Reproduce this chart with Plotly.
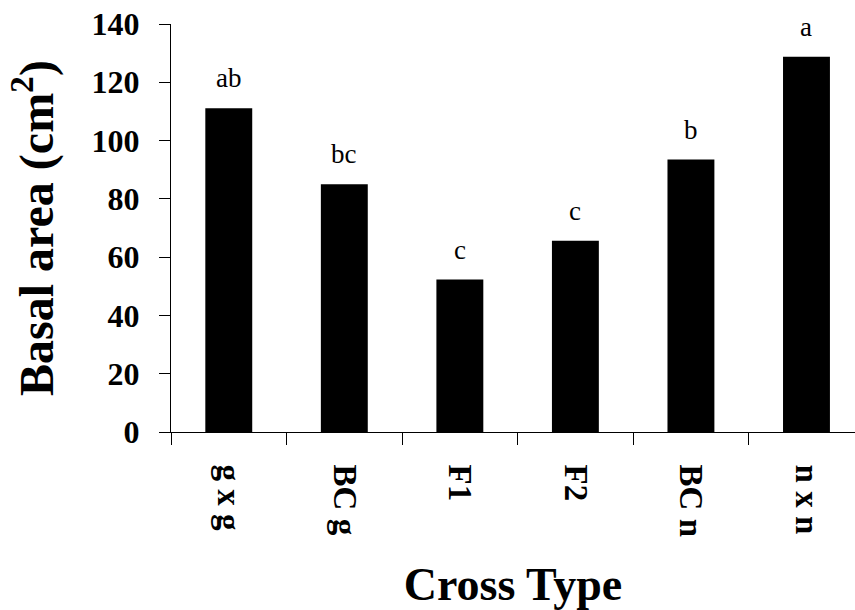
import plotly.graph_objects as go

categories = ["g x g", "BC g", "F1", "F2", "BC n", "n x n"]
basal_area = [111.1, 85.0, 52.3, 65.6, 93.5, 128.8]
group_letters = ["ab", "bc", "c", "c", "b", "a"]
y_ticks = [0, 20, 40, 60, 80, 100, 120, 140]

FONT = "Liberation Serif, Times New Roman, serif"

fig = go.Figure()
fig.add_trace(go.Bar(
    x=categories, y=basal_area,
    marker=dict(color="black", line=dict(width=0)),
    width=0.406,
    hoverinfo="x+y",
))

for c, v, t in zip(categories, basal_area, group_letters):
    fig.add_annotation(x=c, y=v, text=t, showarrow=False, yanchor="bottom",
                       yshift=13, font=dict(family=FONT, size=27, color="black"))

fig.update_layout(
    width=855, height=610,
    margin=dict(l=171, r=0, t=24, b=178),
    paper_bgcolor="white", plot_bgcolor="white",
    showlegend=False,
    font=dict(family=FONT, color="black"),
)
fig.update_xaxes(
    range=[-0.5, 5.42],
    showline=True, linecolor="black", linewidth=1,
    ticks="outside", ticklen=12, tickcolor="black", tickwidth=1,
    tickson="boundaries",
    tickangle=90,
    tickfont=dict(family=FONT, size=33, color="black", weight="bold"),
    ticklabelstandoff=25,
    showgrid=False, zeroline=False,
    title=dict(text="Cross Type", font=dict(family=FONT, size=46, weight="bold", color="black"), standoff=34),
)
fig.update_yaxes(
    range=[0, 140],
    tickvals=y_ticks,
    showline=True, linecolor="black", linewidth=1,
    ticks="outside", ticklen=11, tickcolor="black", tickwidth=1,
    tickfont=dict(family=FONT, size=32, color="black", weight="bold"),
    ticklabelstandoff=13,
    showgrid=False, zeroline=False,
    title=dict(text="Basal area (cm<sup>2</sup>)", font=dict(family=FONT, size=48, weight="bold", color="black"), standoff=22),
)

fig.write_html("out.html")
